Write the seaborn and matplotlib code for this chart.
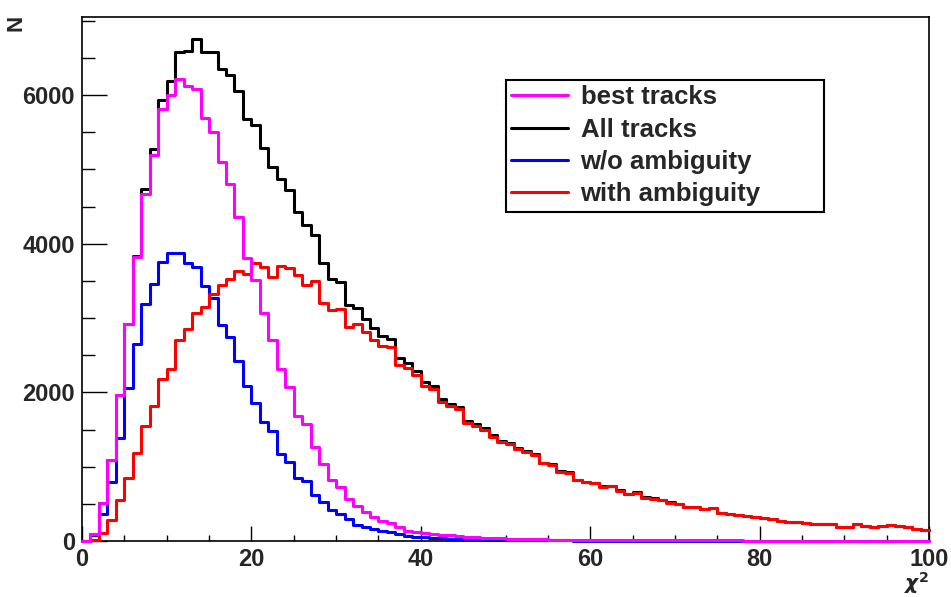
import numpy as np
import pandas as pd
import seaborn as sns
from matplotlib import pyplot as plt
from matplotlib.ticker import MultipleLocator

# chi2 histogram, 100 bins of width 1 between 0 and 100
chi2_centers = np.arange(0.5, 100, 1.0)

best_tracks = [5, 100, 507, 1090, 1965, 2920, 3820, 4666, 5195, 5810,
               6003, 6218, 6124, 6079, 5689, 5500, 5097, 4800, 4356, 3805,
               3513, 3065, 2705, 2311, 2077, 1687, 1575, 1269, 1032, 821,
               723, 561, 471, 386, 319, 273, 238, 193, 130, 120,
               105, 95, 85, 75, 66, 58, 52, 46, 41, 37,
               33, 30, 27, 24, 22, 20, 18, 17, 16, 15,
               14, 13, 12, 12, 11, 11, 10, 10, 9, 9,
               9, 8, 8, 8, 7, 7, 7, 7, 6, 6,
               6, 6, 5, 5, 5, 5, 5, 4, 4, 4,
               4, 4, 4, 3, 3, 3, 3, 3, 3, 3]

all_tracks = [5, 100, 510, 1095, 1970, 2925, 3835, 4733, 5276, 5940,
              6195, 6577, 6591, 6757, 6586, 6586, 6352, 6276, 6057, 5680,
              5599, 5289, 5037, 4868, 4729, 4424, 4257, 4122, 3736, 3526,
              3481, 3176, 3135, 2992, 2862, 2759, 2724, 2463, 2394, 2289,
              2134, 2083, 1912, 1849, 1805, 1617, 1570, 1514, 1422, 1344,
              1320, 1246, 1213, 1167, 1054, 1031, 940, 926, 827, 796,
              780, 736, 745, 681, 636, 654, 587, 573, 555, 519,
              497, 456, 464, 433, 442, 383, 370, 356, 334, 325,
              315, 297, 274, 261, 252, 243, 234, 230, 225, 185,
              194, 225, 203, 185, 206, 211, 202, 184, 157, 148]

wo_ambiguity = [0, 80, 363, 790, 1382, 2055, 2651, 3185, 3459, 3760,
                3880, 3872, 3738, 3692, 3432, 3266, 2907, 2750, 2427, 2086,
                1862, 1597, 1480, 1167, 1059, 844, 812, 619, 529, 417,
                363, 292, 215, 184, 157, 135, 117, 94, 70, 55,
                48, 42, 37, 32, 28, 25, 22, 20, 18, 16,
                14, 12, 11, 10, 9, 8, 7, 7, 6, 6,
                5, 5, 5, 4, 4, 4, 4, 3, 3, 3,
                3, 3, 2, 2, 2, 2, 2, 2, 2, 2,
                1, 1, 1, 1, 1, 1, 1, 1, 1, 1,
                1, 1, 1, 1, 0, 0, 0, 0, 0, 0]

with_ambiguity = [0, 20, 103, 283, 552, 844, 1180, 1548, 1817, 2180,
                  2315, 2705, 2853, 3065, 3154, 3320, 3445, 3526, 3630, 3594,
                  3737, 3692, 3557, 3701, 3670, 3580, 3445, 3503, 3207, 3109,
                  3118, 2884, 2920, 2808, 2705, 2624, 2607, 2369, 2324, 2234,
                  2086, 2041, 1875, 1817, 1777, 1592, 1548, 1494, 1404, 1328,
                  1306, 1234, 1202, 1157, 1045, 1023, 933, 919, 821, 790,
                  775, 731, 740, 677, 632, 650, 583, 570, 552, 516,
                  494, 453, 462, 431, 440, 381, 368, 354, 332, 323,
                  314, 296, 273, 260, 251, 242, 233, 229, 224, 184,
                  193, 224, 202, 184, 206, 211, 202, 184, 157, 148]

sns.set_style('ticks')
plt.rcParams['font.family'] = ['Liberation Sans', 'DejaVu Sans']
plt.rcParams['font.weight'] = 'bold'

fig = plt.figure(figsize=(9.51, 5.97), dpi=100, facecolor='white')
ax = fig.add_axes([0.0862, 0.0938, 0.8907, 0.8777])

# drawing order: black under everything, magenta on top
series = [('All tracks', all_tracks, 'black'),
          ('w/o ambiguity', wo_ambiguity, '#0000ff'),
          ('with ambiguity', with_ambiguity, '#ff0000'),
          ('best tracks', best_tracks, '#ff00ff')]
for i, (label, vals, col) in enumerate(series):
    df = pd.DataFrame({'chi2': chi2_centers, 'N': vals})
    sns.histplot(data=df, x='chi2', weights='N', binwidth=1, binrange=(0, 100),
                 element='step', fill=False, color=col, linewidth=2.2, ax=ax, label=label,
                 clip_on=False, zorder=3 + i)

ax.set_xlim(0, 100)
ax.set_ylim(0, 7050)
ax.set_ylabel('')
ax.set_xlabel('')
ax.text(1.0, -0.056, r'$\chi^{\mathbf{2}}$', transform=ax.transAxes, ha='right', va='top',
        fontsize=14.5)
ax.text(-0.078, 1.005, 'N', transform=ax.transAxes, rotation=90, ha='center', va='top',
        fontsize=16, fontweight='bold')

ax.xaxis.set_major_locator(MultipleLocator(20))
ax.xaxis.set_minor_locator(MultipleLocator(5))
ax.yaxis.set_major_locator(MultipleLocator(2000))
ax.yaxis.set_minor_locator(MultipleLocator(500))
ax.tick_params(which='both', direction='in', top=False, right=False, labelsize=17, width=1, color='black')
ax.tick_params(axis='y', which='major', length=18, pad=5)
ax.tick_params(axis='y', which='minor', length=9.4)
ax.tick_params(axis='x', which='major', length=10.8, pad=5)
ax.tick_params(axis='x', which='minor', length=4.5)
for sp in ax.spines.values():
    sp.set_visible(True)
    sp.set_linewidth(1.2)
    sp.set_color('black')

handles, labels = ax.get_legend_handles_labels()
lookup = dict(zip(labels, handles))
order = ['best tracks', 'All tracks', 'w/o ambiguity', 'with ambiguity']
leg = ax.legend([lookup[k] for k in order], order, loc='upper left',
                bbox_to_anchor=(0.5006, 0.628, 0.3754, 0.252), mode='expand',
                fontsize=18.5, frameon=True, fancybox=False, edgecolor='black', framealpha=1,
                handlelength=2.2, handletextpad=0.5, labelspacing=0.33, borderpad=0.2,
                borderaxespad=0)
leg.get_frame().set_linewidth(1.5)
leg.set_zorder(10)

fig.savefig('out.png', dpi=100)
